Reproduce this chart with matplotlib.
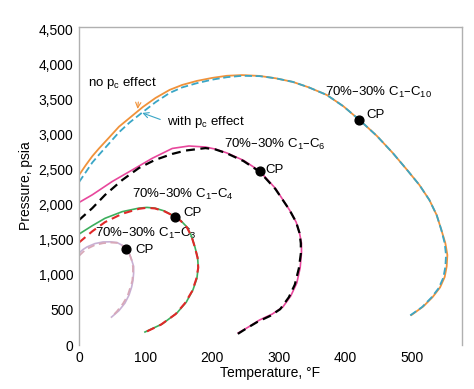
import matplotlib
matplotlib.use('Agg')
import matplotlib.pyplot as plt

plt.rcParams['font.family'] = ['Liberation Sans', 'DejaVu Sans']
plt.rcParams['mathtext.default'] = 'regular'

# 70%-30% C1-C10 (no pc effect / with pc effect)
c10_T = [0, 10, 20, 30, 46, 60, 76, 96, 115, 136, 155, 177, 200, 222, 245, 271, 295, 321, 345, 372,
         397, 421, 447, 471, 492, 511, 526, 537, 544, 550, 553, 552, 549, 542, 531, 517, 499]
c10_P = [2420, 2560, 2690, 2800, 2964, 3110, 3235, 3392, 3520, 3634, 3705, 3762, 3805, 3835, 3845, 3833, 3800, 3748, 3670, 3562,
         3400, 3206, 2980, 2736, 2500, 2280, 2066, 1850, 1639, 1450, 1282, 1120, 969, 820, 684, 550, 427]
c10pc_T = [0, 10, 20, 30, 46, 60, 76, 96, 115, 136, 155, 177, 200, 222, 245, 271, 295, 321, 345, 372,
           397, 421, 447, 471, 492, 511, 526, 537, 544, 549, 551, 550, 547, 540, 529, 515, 497]
c10pc_P = [2320, 2460, 2600, 2710, 2880, 3030, 3170, 3320, 3460, 3590, 3670, 3730, 3780, 3815, 3835, 3830, 3800, 3748, 3670, 3562,
           3400, 3206, 2980, 2736, 2500, 2280, 2066, 1850, 1639, 1450, 1280, 1115, 960, 810, 675, 540, 420]

# 70%-30% C1-C6
c6_T = [0, 20, 50, 80, 110, 140, 165, 190, 205, 222, 247, 271, 295, 316, 326, 331, 334, 334,
        332, 327, 318, 306, 290, 271, 255, 239]
c6_P = [2030, 2140, 2330, 2494, 2660, 2800, 2835, 2820, 2790, 2736, 2630, 2480, 2230, 1924, 1750, 1596, 1450, 1311,
        1100, 884, 700, 541, 440, 356, 260, 171]
c6pc_T = [0, 20, 39, 65, 90, 114, 140, 160, 190, 205, 222, 247, 271, 295, 316, 326, 331, 333, 333,
          330, 324, 315, 302, 287, 268, 252, 237]
c6pc_P = [1780, 1950, 2137, 2351, 2522, 2636, 2722, 2770, 2805, 2785, 2730, 2620, 2470, 2220, 1924, 1750, 1596, 1450, 1300,
          1090, 860, 680, 510, 415, 330, 240, 150]

# 70%-30% C1-C4
c4_T = [0, 20, 39, 65, 90, 102, 114, 128, 144, 153, 162, 169, 174, 178, 179, 177, 171, 161, 147, 125, 99]
c4_P = [1580, 1700, 1805, 1900, 1950, 1960, 1950, 1910, 1830, 1770, 1681, 1550, 1397, 1250, 1112, 950, 784, 610, 456, 300, 185]
c4pc_T = [0, 20, 39, 65, 90, 102, 114, 128, 144, 153, 162, 169, 174, 178, 179, 176, 170, 159, 145, 123, 99]
c4pc_P = [1460, 1620, 1750, 1870, 1940, 1955, 1945, 1905, 1830, 1765, 1675, 1545, 1390, 1240, 1100, 940, 770, 595, 440, 290, 180]

# 70%-30% C1-C3
c3_T = [0, 6, 12, 24, 36, 47, 57, 65, 70, 76, 79, 82, 82, 81, 79, 75, 69, 60, 49]
c3_P = [1311, 1360, 1397, 1445, 1468, 1470, 1460, 1420, 1368, 1290, 1211, 1120, 1026, 920, 826, 710, 598, 490, 399]
c3pc_T = [0, 6, 12, 24, 36, 47, 57, 65, 70, 76, 79, 81, 81, 80, 77, 73, 66, 57, 48]
c3pc_P = [1270, 1325, 1370, 1425, 1450, 1460, 1455, 1415, 1368, 1290, 1211, 1115, 1020, 915, 820, 700, 590, 480, 390]

# critical points and their labels
cp_T = [421, 271, 144, 70]
cp_P = [3206, 2480, 1830, 1368]
cp_label_T = [432, 280, 156, 84]
cp_label_P = [3277, 2494, 1881, 1354]

fig = plt.figure(figsize=(4.74, 3.89), dpi=100)
ax = fig.add_axes([0.1667, 0.1131, 0.8080, 0.8175])

ax.plot(c10_T, c10_P, color='#f0923a', lw=1.3)
ax.plot(c10pc_T, c10pc_P, color='#3aa6c6', lw=1.3, ls=(0, (4, 2)))
ax.plot(c6_T, c6_P, color='#e8479c', lw=1.2)
ax.plot(c6pc_T, c6pc_P, color='black', lw=1.6, ls=(0, (4, 2.5)))
ax.plot(c4_T, c4_P, color='#3cae5c', lw=1.2)
ax.plot(c4pc_T, c4pc_P, color='#e02828', lw=1.5, ls=(0, (4, 2.5)))
ax.plot(c3_T, c3_P, color='#c8b0d4', lw=1.2)
ax.plot(c3pc_T, c3pc_P, color='#d8a8b8', lw=1.3, ls=(0, (4, 2.5)))

ax.scatter(cp_T, cp_P, s=40, color='black', zorder=5)

fs = 9.5
for t, p in zip(cp_label_T, cp_label_P):
    ax.text(t, p, 'CP', fontsize=fs, va='center')

ax.text(369, 3591, '70%–30% C$_1$–C$_{10}$', fontsize=fs, va='center')
ax.text(218, 2850, '70%–30% C$_1$–C$_6$', fontsize=fs, va='center')
ax.text(80, 2138, '70%–30% C$_1$–C$_4$', fontsize=fs, va='center')
ax.text(24, 1596, '70%–30% C$_1$–C$_3$', fontsize=fs, va='center', zorder=1)

ax.annotate('no p$_c$ effect', xy=(88, 3363), xytext=(13, 3733),
            fontsize=fs, va='center',
            arrowprops=dict(arrowstyle='->', color='#f0923a', lw=0.8,
                            shrinkA=6, shrinkB=0, relpos=(0.75, 0)))
ax.annotate('with p$_c$ effect', xy=(95, 3306), xytext=(132, 3178),
            fontsize=fs, va='center',
            arrowprops=dict(arrowstyle='->', color='#3aa6c6', lw=0.8,
                            shrinkA=3, shrinkB=0, relpos=(0, 0.5)))

ax.set_xlim(0, 575)
ax.set_ylim(0, 4530)
ax.set_xticks([0, 100, 200, 300, 400, 500])
ax.set_yticks(range(0, 4501, 500))
ax.set_yticklabels(['0', '500', '1,000', '1,500', '2,000', '2,500',
                    '3,000', '3,500', '4,000', '4,500'])
ax.tick_params(length=0, labelsize=fs + 0.5, pad=4)
ax.set_xlabel('Temperature, °F', fontsize=fs + 0.5, labelpad=1)
ax.set_ylabel('Pressure, psia', fontsize=fs + 0.5, labelpad=4)

for s in ['left', 'right', 'top']:
    ax.spines[s].set_color('#b0b0b0')
    ax.spines[s].set_linewidth(1.0)
ax.spines['bottom'].set_visible(False)

fig.savefig('out.png', dpi=100)
